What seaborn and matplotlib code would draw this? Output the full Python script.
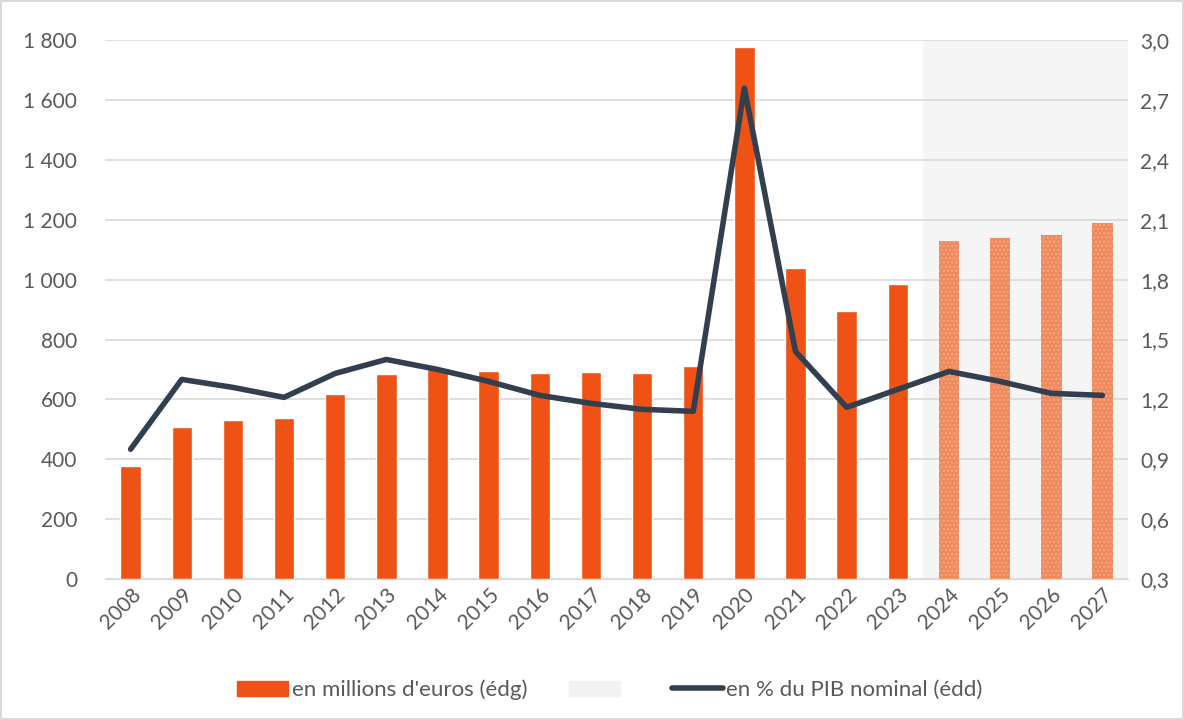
import numpy as np
import pandas as pd
import seaborn as sns
import matplotlib.pyplot as plt
from matplotlib.patches import Patch
from matplotlib.lines import Line2D
from matplotlib.ticker import FuncFormatter

years = [str(y) for y in range(2008, 2028)]
millions = [378, 507, 532, 537, 618, 686, 700, 695, 688, 690, 688, 711,
            1778, 1040, 895, 985, 1130, 1140, 1148, 1188]
pct_pib = [0.95, 1.30, 1.26, 1.21, 1.33, 1.40, 1.35, 1.29, 1.22, 1.18, 1.15, 1.14,
           2.76, 1.44, 1.16, 1.25, 1.34, 1.29, 1.23, 1.22]
first_proj = "2024"

orange = "#EE5214"
orange_light = "#F08A5D"
navy = "#323F4F"
grey_txt = "#595959"

sns.set_style("white")
plt.rcParams['font.family'] = ['Lato', 'DejaVu Sans']

df = pd.DataFrame({"year": years, "millions": millions, "pct": pct_pib})
df["kind"] = np.where(df["year"] >= first_proj, "proj", "real")

fig = plt.figure(figsize=(11.84, 7.2), dpi=100, linewidth=1.5, edgecolor="#D9D9D9")
ax = fig.add_axes([0.0887, 0.196, 0.864, 0.748])

sns.barplot(data=df, x="year", y="millions", hue="kind", dodge=False,
            palette={"real": orange, "proj": orange_light}, width=0.4,
            saturation=1, legend=False, ax=ax, zorder=2)
for bar_container, k in zip(ax.containers, ["real", "proj"]):
    if k == "proj":
        for p in bar_container:
            p.set_hatch("....")
            p.set_edgecolor("#F4A885")
            p.set_linewidth(0)

# zone de prévision
start = years.index(first_proj) - 0.5
ax.axvspan(start, len(years) - 0.5, color="#F5F5F5", zorder=0, lw=0)

ax.set_xlim(-0.5, len(years) - 0.5)
ax.set_ylim(0, 1800)
ax.set_yticks(range(0, 1801, 200))
ax.yaxis.set_major_formatter(FuncFormatter(lambda v, _: f"{int(v):,}".replace(",", " ")))
ax.grid(axis="y", color="#D9D9D9", lw=1.2, zorder=1)
ax.set_axisbelow(True)
ax.set_xlabel("")
ax.set_ylabel("")
sns.despine(ax=ax, left=True, bottom=False, right=True, top=True)
ax.spines["bottom"].set_color("#D9D9D9")
ax.tick_params(axis="y", length=0, pad=20, labelsize=15, labelcolor=grey_txt)
ax.tick_params(axis="x", length=0, pad=4, labelsize=15, labelcolor=grey_txt)
for lbl in ax.get_xticklabels():
    lbl.set_rotation(45)
    lbl.set_ha("right")
    lbl.set_rotation_mode("anchor")

ax2 = ax.twinx()
sns.lineplot(x=np.arange(len(years)), y=pct_pib, color=navy, lw=4, ax=ax2,
             solid_capstyle="round", zorder=5)
ax2.set_ylim(0.3, 3.0)
ax2.set_yticks(np.arange(0.3, 3.01, 0.3))
ax2.yaxis.set_major_formatter(FuncFormatter(lambda v, _: f"{v:.1f}".replace(".", ",")))
ax2.tick_params(axis="y", length=0, pad=9, labelsize=15, labelcolor=grey_txt)
for s in ax2.spines.values():
    s.set_visible(False)

handles = [Patch(color=orange), Patch(color="#F2F2F2"),
           Line2D([0], [0], color=navy, lw=4, solid_capstyle="round")]
labels = ["en millions d'euros (édg)", " ", "en % du PIB nominal (édd)"]
leg = fig.legend(handles, labels, loc="center", bbox_to_anchor=(0.515, 0.042), ncol=3,
                 frameon=False, fontsize=16, handlelength=2.3, handletextpad=0.15,
                 columnspacing=1.9)
for t in leg.get_texts():
    t.set_color(grey_txt)

fig.savefig("out.png", dpi=100, edgecolor=fig.get_edgecolor())
